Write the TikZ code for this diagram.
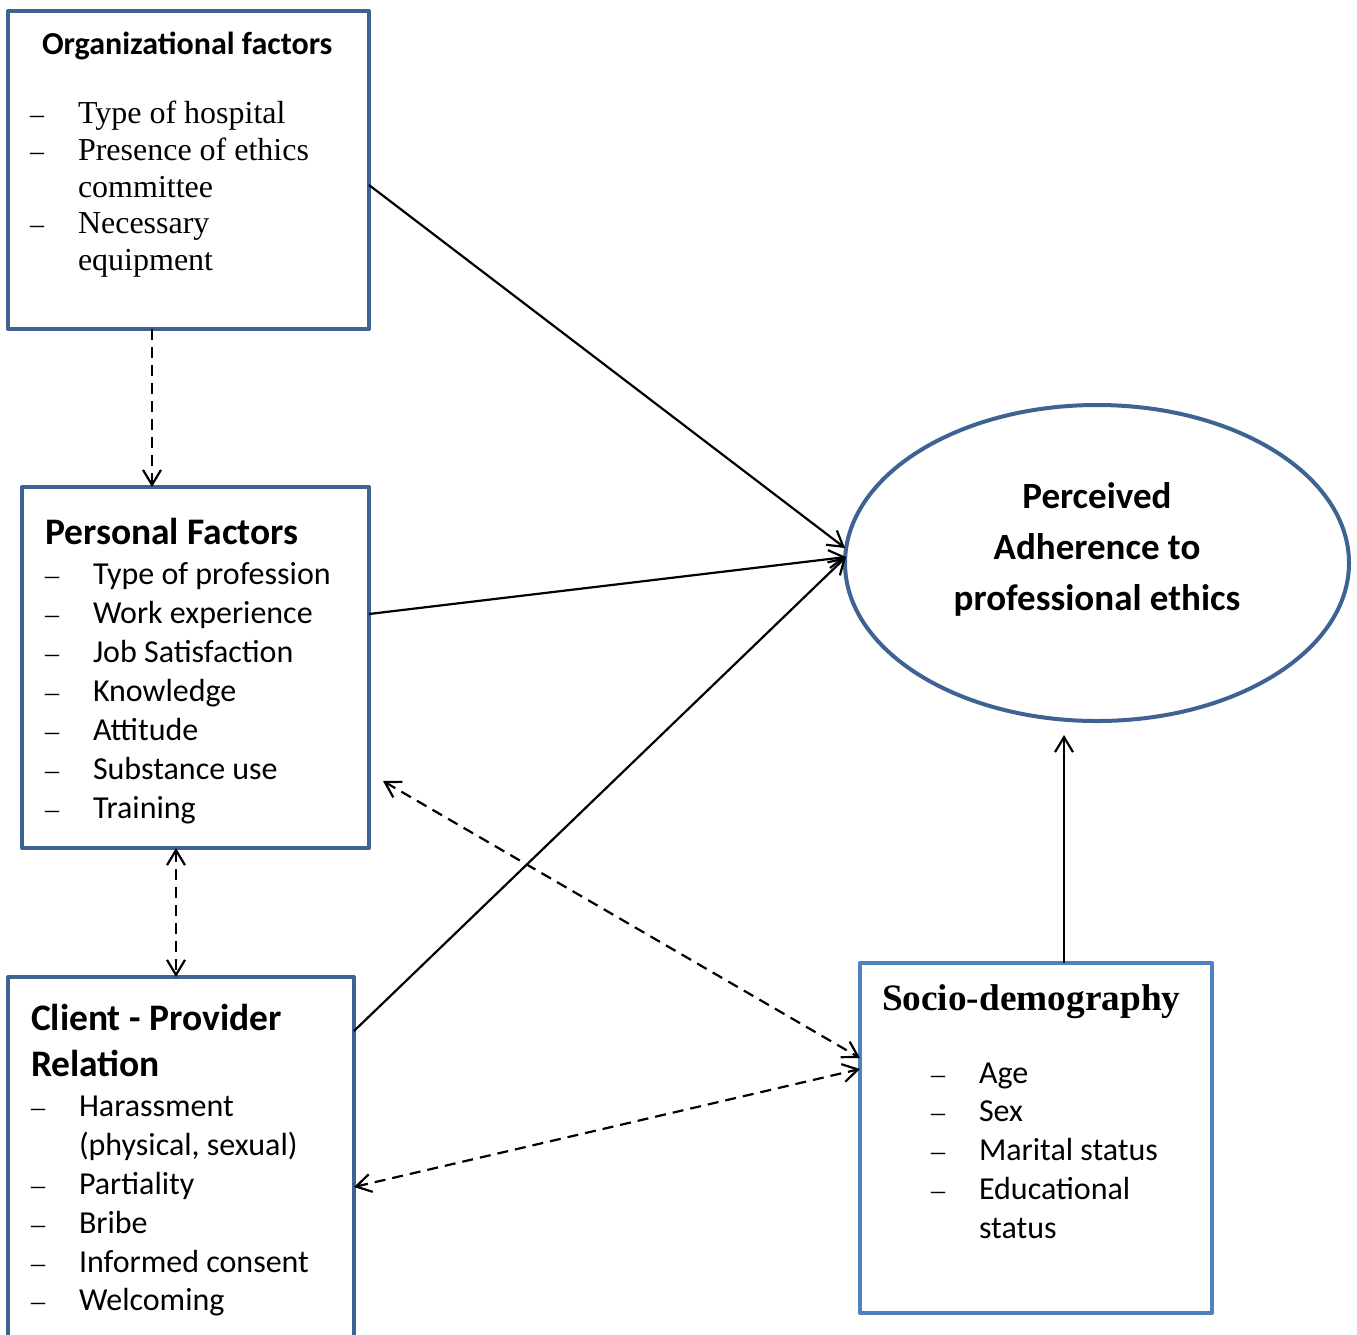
\documentclass[tikz,border=0pt]{standalone}
\usepackage{fontspec}
\setmainfont{Liberation Serif}
\newfontfamily\calfont{Carlito}
\usetikzlibrary{arrows.meta,shapes.geometric}
\definecolor{boxblue}{HTML}{3E6392}
\definecolor{socioblue}{HTML}{4F81BD}
\begin{document}
\begin{tikzpicture}[x=1pt,y=-1pt,
  boxdark/.style={draw=boxblue, line width=4pt, inner sep=0pt, outer sep=0pt, anchor=north west, line join=round},
  boxlight/.style={boxdark, draw=socioblue},
  txt/.style={anchor=base west, inner sep=0pt, outer sep=0pt},
  orghead/.style={txt, font=\calfont\bfseries\fontsize{32}{38}\selectfont},
  serifitem/.style={txt, font=\fontsize{32}{37}\selectfont},
  calitem/.style={txt, font=\calfont\fontsize{32}{39}\selectfont},
  calhead/.style={txt, font=\calfont\bfseries\fontsize{37.5}{46}\selectfont},
  ellhead/.style={anchor=base, inner sep=0pt, font=\calfont\bfseries\fontsize{37}{51}\selectfont},
  seriftitle/.style={txt, font=\bfseries\fontsize{37.3}{44}\selectfont},
  dashmark/.style={txt, font=\fontsize{28}{32}\selectfont},
  conn/.style={line width=2.2pt, -{Straight Barb[length=15pt,width=18pt,line width=2.2pt]}},
  dconn/.style={line width=2.2pt, dash pattern=on 11pt off 7pt},
  tip/.tip={Straight Barb[length=15pt,width=18pt,line width=2.2pt]}
]
\useasboundingbox (0,0) rectangle (1357,1334);
\clip (0,0) rectangle (1357,1334);
\fill[white] (0,0) rectangle (1357,1334);

% boxes
\node[boxdark, minimum width=361pt, minimum height=318pt] (org) at (8,11) {};
\node[boxdark, minimum width=347pt, minimum height=361pt] (pers) at (22,487) {};
\node[boxdark, minimum width=346pt, minimum height=370pt] (cli) at (8,977) {};
\node[boxlight, minimum width=352pt, minimum height=350pt] (soc) at (860,963) {};
\node[draw=boxblue, line width=4pt, ellipse, minimum width=504pt, minimum height=316pt, inner sep=0pt, outer sep=0pt] (ell) at (1097,563) {};

% organizational
\node[orghead] (orgT) at (42,54) {Organizational factors};
\node[dashmark] (od1) at (30,123) {–};
\node[serifitem] (o1) at (78,123) {Type of hospital};
\node[dashmark] (od2) at (30,160) {–};
\node[serifitem] (o2) at (78,160) {Presence of ethics};
\node[serifitem] (o3) at (78,197) {committee};
\node[dashmark] (od3) at (30,233) {–};
\node[serifitem] (o4) at (78,233) {Necessary};
\node[serifitem] (o5) at (78,270) {equipment};

% personal
\node[calhead] (persT) at (45,544) {Personal Factors};
\foreach \t [count=\i] in {Type of profession,Work experience,Job Satisfaction,Knowledge,Attitude,Substance use,Training}{
  \node[dashmark] (pd\i) at (45,{584+39*(\i-1)}) {–};
  \node[calitem] (p\i) at (93,{584+39*(\i-1)}) {\t};
}

% client
\node[calhead] (cliT1) at (31,1030) {Client - Provider};
\node[calhead] (cliT2) at (31,1076) {Relation};
\node[dashmark] (cd1) at (31,1116) {–};
\node[calitem] (c1) at (79,1116) {Harassment};
\node[calitem] (c2) at (79,1155) {(physical, sexual)};
\node[dashmark] (cd3) at (31,1194) {–};
\node[calitem] (c3) at (79,1194) {Partiality};
\node[dashmark] (cd4) at (31,1233) {–};
\node[calitem] (c4) at (79,1233) {Bribe};
\node[dashmark] (cd5) at (31,1272) {–};
\node[calitem] (c5) at (79,1272) {Informed consent};
\node[dashmark] (cd6) at (31,1310) {–};
\node[calitem] (c6) at (79,1310) {Welcoming};

% ellipse text
\node[ellhead] (e1) at (1097,508) {Perceived};
\node[ellhead] (e2) at (1097,559) {Adherence to};
\node[ellhead] (e3) at (1097,610) {professional ethics};

% socio
\node[seriftitle] (socT) at (882,1010) {Socio-demography};
\node[dashmark] (sd1) at (931,1083) {–};
\node[calitem] (s1) at (979,1083) {Age};
\node[dashmark] (sd2) at (931,1121) {–};
\node[calitem] (s2) at (979,1121) {Sex};
\node[dashmark] (sd3) at (931,1160) {–};
\node[calitem] (s3) at (979,1160) {Marital status};
\node[dashmark] (sd4) at (931,1199) {–};
\node[calitem] (s4) at (979,1199) {Educational};
\node[calitem] (s5) at (979,1238) {status};

% free-end coordinates
\coordinate (persfree) at (383,781);
\coordinate (ellbelow) at (1064,735);

% solid connectors
\draw[conn] ([yshift=-15pt]org.east) -- ([yshift=15pt]ell.west);
\draw[conn] ([yshift=53.5pt]pers.east) -- ([xshift=1pt,yshift=6pt]ell.west);
\draw[conn] ([yshift=131pt]cli.east) -- ([xshift=1pt,yshift=6pt]ell.west);
\draw[conn] ([xshift=28pt]soc.north) -- (ellbelow);

% dashed connectors
\draw[dconn, -tip] ([xshift=-36.5pt]org.south) -- ([xshift=-43.5pt]pers.north);
\draw[dconn, tip-tip] ([xshift=-19.5pt]pers.south) -- ([xshift=-5pt]cli.north);
\draw[dconn, tip-tip] (persfree) -- ([yshift=80pt]soc.west);
\draw[dconn, tip-tip] ([yshift=-25pt]cli.east) -- ([yshift=69pt]soc.west);
\end{tikzpicture}
\end{document}
